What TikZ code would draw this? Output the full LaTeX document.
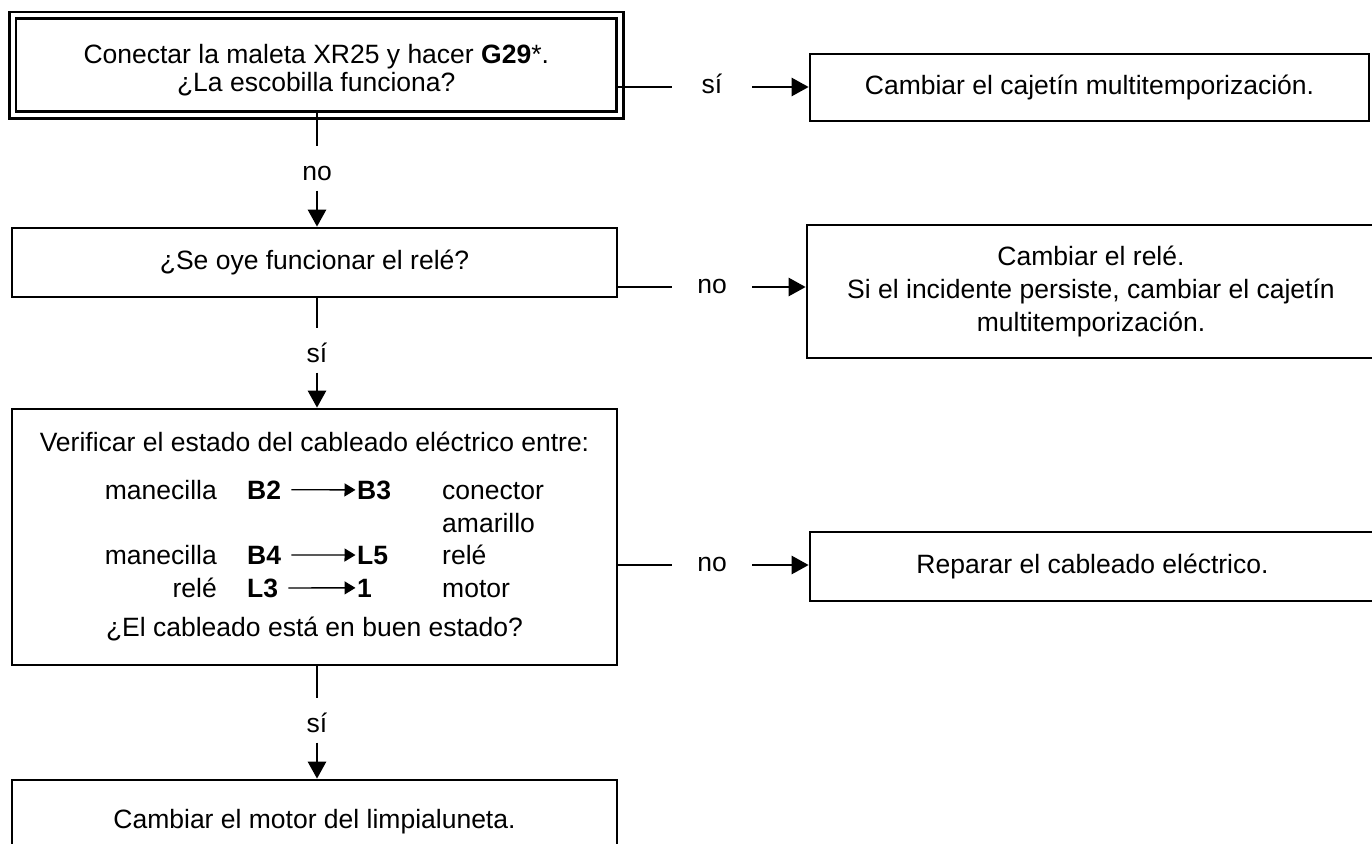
\documentclass[tikz,border=0pt]{standalone}
\usepackage{fontspec}
\setmainfont{Liberation Sans}
\usetikzlibrary{arrows.meta}
\newcommand\dfont{\fontsize{26.5pt}{33pt}\selectfont}
\newcommand\tightfont{\fontsize{26.5pt}{27.5pt}\selectfont}
\begin{document}
\begin{tikzpicture}[x=1pt,y=-1pt,
  box/.style={draw, line width=2.7pt, inner sep=0pt, align=center, font=\dfont},
  dbox/.style={box, double, double distance=4pt, line width=2.6pt},
  lblh/.style={inner sep=0pt, minimum width=80pt, font=\dfont, text height=18.8pt, text depth=5pt},
  lblv/.style={inner sep=0pt, minimum height=44pt, font=\dfont, text height=28.8pt, text depth=5pt},
  plain/.style={inner sep=0pt, font=\dfont},
  conn/.style={line width=2.7pt},
  arr/.style={line width=2.7pt, -{Triangle[length=17pt,width=18pt]}},
  inarr/.style={line width=1.3pt, -{Triangle[length=11pt,width=13pt]}, shorten <=10pt, shorten >=1.5pt}
]
\useasboundingbox (0,0) rectangle (1372,843);

% left column boxes
\node[dbox, minimum width=607.5pt, minimum height=99.5pt] (b1) at (316.25,65.25) {};
\node[plain, align=center, font=\tightfont] (b1t) at (316.25,70)
  {Conectar la maleta XR25 y hacer \textbf{G29}*.\\¿La escobilla funciona?};
\node[box, minimum width=605pt, minimum height=69pt] (b2) at (314.5,262.5)
  {¿Se oye funcionar el relé?};
\node[box, minimum width=605pt, minimum height=256pt] (b3) at (314.5,537) {};
\node[box, minimum width=605pt, minimum height=84pt] (b4) at (314.5,822)
  {Cambiar el motor del limpialuneta.};

% right column boxes
\node[box, minimum width=559pt, minimum height=67pt] (ra) at (1089.5,87.5)
  {Cambiar el cajetín multitemporización.};
\node[box, minimum width=568pt, minimum height=133pt] (rb) at (1091,291.5)
  {Cambiar el relé.\\Si el incidente persiste, cambiar el cajetín\\multitemporización.};
\node[box, minimum width=565pt, minimum height=69pt] (rc) at (1092.5,566.5)
  {Reparar el cableado eléctrico.};

% contents of the verification box
\node[plain, anchor=base] (v0) at (314.5,451) {Verificar el estado del cableado eléctrico entre:};
\node[plain, anchor=base east] (m1) at (217,499) {manecilla};
\node[plain, anchor=base west] (p1) at (247,499) {\textbf{B2}};
\node[plain, anchor=base west] (q1) at (357,499) {\textbf{B3}};
\node[plain, anchor=base west] (d1) at (442,499) {conector};
\node[plain, anchor=base west] (d1b) at (442,532) {amarillo};
\node[plain, anchor=base east] (m2) at (217,564) {manecilla};
\node[plain, anchor=base west] (p2) at (247,564) {\textbf{B4}};
\node[plain, anchor=base west] (q2) at (357,564) {\textbf{L5}};
\node[plain, anchor=base west] (d2) at (442,564) {relé};
\node[plain, anchor=base east] (m3) at (217,597) {relé};
\node[plain, anchor=base west] (p3) at (247,597) {\textbf{L3}};
\node[plain, anchor=base west] (q3) at (357,597) {\textbf{1}};
\node[plain, anchor=base west] (d3) at (442,597) {motor};
\node[plain, anchor=base] (v5) at (314.5,636) {¿El cableado está en buen estado?};
\draw[inarr] (p1.east) -- (q1.west);
\draw[inarr] (p2.east) -- (q2.west);
\draw[inarr] (p3.east) -- (q3.west);

% horizontal connectors
\node[lblh] (h1) at (712,87) {sí};
\draw[conn] ([xshift=-3pt]b1.east |- h1) -- (h1.west);
\draw[arr] (h1.east) -- (ra.west |- h1);

\node[lblh] (h2) at (712,287) {no};
\draw[conn] (b2.east |- h2) -- (h2.west);
\draw[arr] (h2.east) -- (rb.west |- h2);

\node[lblh] (h3) at (712,565) {no};
\draw[conn] (b3.east |- h3) -- (h3.west);
\draw[arr] (h3.east) -- (rc.west |- h3);

% vertical connectors
\node[lblv] (w1) at (317,168.5) {no};
\draw[conn] ([yshift=3pt]b1.south -| w1) -- (w1.north);
\draw[arr] (w1.south) -- (b2.north -| w1);

\node[lblv] (w2) at (317,350.5) {sí};
\draw[conn] (b2.south -| w2) -- (w2.north);
\draw[arr] (w2.south) -- (b3.north -| w2);

\node[lblv] (w3) at (317,720.5) {sí};
\draw[conn] (b3.south -| w3) -- (w3.north);
\draw[arr] (w3.south) -- (b4.north -| w3);
\end{tikzpicture}
\end{document}
